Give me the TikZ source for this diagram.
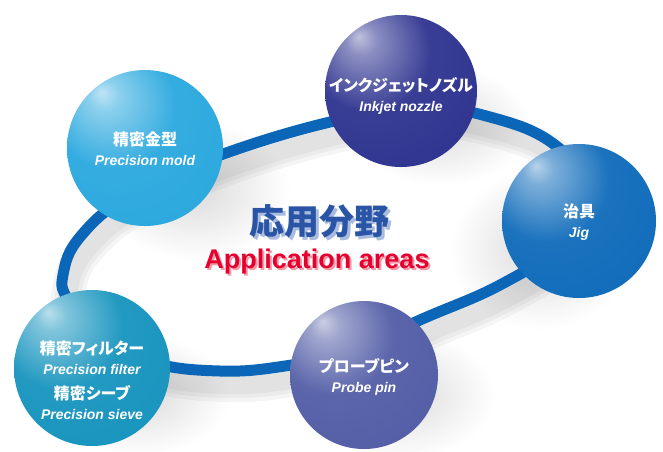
\documentclass[tikz,border=0pt]{standalone}
\usepackage{fontspec}
\setmainfont{Liberation Sans}
\newfontfamily\jp[RawFeature=+palt]{Noto Sans CJK JP}
\usetikzlibrary{fadings}

\definecolor{moldc}{HTML}{2AA8DE}
\definecolor{inkc}{HTML}{2E338F}
\definecolor{jigc}{HTML}{0F6BBA}
\definecolor{probec}{HTML}{525DA6}
\definecolor{filterc}{HTML}{1794BE}
\definecolor{ringc}{HTML}{0B66B8}
\definecolor{titleblue}{HTML}{2A55A6}
\definecolor{titleshade}{HTML}{A9BCDD}
\definecolor{titlered}{HTML}{E5002F}
\definecolor{redshade}{HTML}{F29AA8}

\colorlet{ballc}{moldc}
\pgfdeclareradialshading[ballc]{glossy}{\pgfpoint{-14bp}{18bp}}{%
  color(0bp)=(ballc!30!white); color(5bp)=(ballc!55!white);
  color(20bp)=(ballc!95!white); color(42bp)=(ballc); color(52bp)=(ballc!82!white);
  color(62bp)=(ballc!45!white); color(75bp)=(white)}
\tikzfading[name=fuzzy, inner color=transparent!0, outer color=transparent!100]

\newcommand\jpline[1]{{\jp\bfseries\fontsize{16}{20}\selectfont #1}}
\newcommand\enline[1]{{\bfseries\itshape\fontsize{14}{20}\selectfont #1}}
% text with a soft offset copy behind it
\newcommand\shaded[3]{\rlap{\hspace{#3}\raisebox{-#3}{\textcolor{#1}{#2}}}#2}

\tikzset{
  ball/.style={circle, inner sep=0pt, shading=glossy, /utils/exec={\colorlet{ballc}{#1}}},
  lbl/.style={text=white, align=center, inner sep=0pt, font=\fontsize{16}{20}\selectfont},
  shadow/.style={fill=black, opacity=.14, path fading=fuzzy},
  ring/.style={draw=ringc, line width=11pt},
}

\begin{document}
\begin{tikzpicture}[x=1pt,y=-1pt]
  \useasboundingbox (0,0) rectangle (663,451);

  % soft shadows
  \fill[shadow] (195,190) ellipse (95 and 70);
  \fill[shadow] (440,125) ellipse (90 and 60);
  \fill[shadow] (540,250) ellipse (90 and 80);
  \fill[shadow] (400,395) ellipse (95 and 65);
  \fill[shadow] (140,395) ellipse (90 and 60);
  \foreach \w in {34,26,18}
    \draw[black, opacity=.04, line width=\w pt, shift={(6,14)}]
      plot[smooth cycle, tension=0.7] coordinates {(63,275) (80,237) (130,195) (215,157) (330,122) (420,108) (490,117) (555,145) (592,195) (560,245) (500,285) (420,320) (350,352) (285,366) (220,371) (150,362) (95,335) (68,300)};

  % the ring
  \draw[ring] plot[smooth cycle, tension=0.7] coordinates {(63,275) (80,237) (130,195) (215,157) (330,122) (420,108) (490,117) (555,145) (592,195) (560,245) (500,285) (420,320) (350,352) (285,366) (220,371) (150,362) (95,335) (68,300)};

  % spheres
  \node[ball=moldc, minimum size=156pt] (mold) at (145,148) {};
  \node[ball=inkc, minimum size=152pt] (inkjet) at (401,91) {};
  \node[ball=jigc, minimum size=154pt] (jig) at (579,221) {};
  \node[ball=probec, minimum size=148pt] (probe) at (364,375) {};
  \node[ball=filterc, minimum size=156pt] (filter) at (92,368) {};

  % labels
  \node[lbl] (moldtxt) at ([yshift=-1pt]mold.center) {\jpline{精密金型}\\\enline{Precision mold}};
  \node[lbl] (inkjettxt) at ([yshift=-5pt]inkjet.center) {\jpline{インクジェットノズル}\\\enline{Inkjet nozzle}};
  \node[lbl] (jigtxt) at ([yshift=-1pt]jig.center) {\jpline{治具}\\\enline{Jig}};
  \node[lbl] (probetxt) at ([yshift=-2pt]probe.center) {\jpline{プローブピン}\\\enline{Probe pin}};
  \node[lbl] (filtertxt) at ([yshift=-12pt]filter.center) {\jpline{精密フィルター}\\\enline{Precision filter}\\[5pt]\jpline{精密シーブ}\\\enline{Precision sieve}};

  % title
  \node[text=titleblue, font=\jp\bfseries\fontsize{35}{40}\selectfont] (title) at (319,223) {\shaded{titleshade}{応用分野}{3pt}};
  \node[text=titlered, font=\bfseries\fontsize{27}{30}\selectfont] (sub) at (317,263) {\shaded{redshade}{Application areas}{2pt}};
\end{tikzpicture}
\end{document}
